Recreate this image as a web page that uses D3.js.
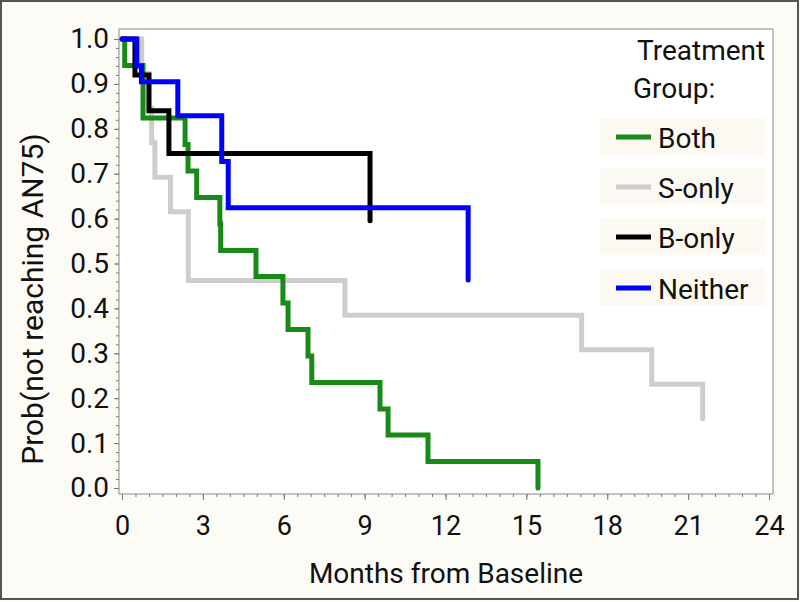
<!DOCTYPE html>
<html>
<head>
<meta charset="utf-8">
<script src="https://cdn.jsdelivr.net/npm/d3@7/dist/d3.min.js"></script>
<style>
    body { margin: 0; background: #fcfbf5; }
    svg { display: block; font-family: Roboto, 'Open Sans', sans-serif; }
</style>
</head>
<body>
<div id="js-svg-container"></div>
<script>
// Kaplan-Meier steps: event times (months) and survival after each event
let groupNames = ['Both', 'S-only', 'B-only', 'Neither'];
let groupColors = ['#178a17', '#cdcdcd', '#000000', '#0000ff'];

let bothTimes = [0.1, 0.78, 2.34, 2.45, 2.77, 3.63, 3.66, 4.97, 5.97, 6.16, 6.9, 7.04, 9.57, 9.87, 11.35, 15.43];
let bothSurv  = [0.941, 0.824, 0.765, 0.706, 0.647, 0.588, 0.529, 0.471, 0.412, 0.353, 0.294, 0.235, 0.176, 0.118, 0.059, 0.0];

let sOnlyTimes = [0.73, 1.0, 1.1, 1.22, 1.8, 2.46, 8.27, 17.05, 19.65, 21.54];
let sOnlySurv  = [0.923, 0.846, 0.769, 0.692, 0.615, 0.462, 0.385, 0.308, 0.231, 0.154];

let bOnlyTimes = [0.48, 1.0, 1.74, 9.2];
let bOnlySurv  = [0.92, 0.84, 0.745, 0.595];

let neitherTimes = [0.55, 0.72, 2.07, 3.7, 3.94, 12.84];
let neitherSurv  = [0.94, 0.905, 0.829, 0.727, 0.624, 0.463];

let xTicks = [0, 3, 6, 9, 12, 15, 18, 21, 24];
let yTicks = [0, 0.1, 0.2, 0.3, 0.4, 0.5, 0.6, 0.7, 0.8, 0.9, 1.0];

let width = 800, height = 602;
let plot = { left: 119, right: 773, top: 29, bottom: 494 };

let svg = d3.select('#js-svg-container')
    .append('svg')
    .attr('width', width)
    .attr('height', height);

svg.append('rect')
    .attr('x', 0).attr('y', 0)
    .attr('width', width).attr('height', height)
    .style('fill', '#fcfbf5');

svg.append('rect')
    .attr('x', 1).attr('y', 1)
    .attr('width', 797).attr('height', 598)
    .style('fill', 'none')
    .style('stroke', '#555')
    .style('stroke-width', 2);

svg.append('rect')
    .attr('x', plot.left).attr('y', plot.top)
    .attr('width', plot.right - plot.left)
    .attr('height', plot.bottom - plot.top)
    .style('fill', '#fff');

let x = d3.scaleLinear().domain([0, 24]).range([122, 769]);
let y = d3.scaleLinear().domain([0, 1]).range([488, 39]);

// minor ticks
svg.append('g')
    .attr('transform', 'translate(0,' + plot.bottom + ')')
    .call(d3.axisBottom(x).tickValues(d3.range(0, 24.01, 0.5)).tickSize(3).tickFormat(''))
    .call(g => g.select('.domain').remove());
svg.append('g')
    .attr('transform', 'translate(' + plot.left + ',0)')
    .call(d3.axisLeft(y).tickValues(d3.range(0, 1.001, 0.02)).tickSize(3).tickFormat(''))
    .call(g => g.select('.domain').remove());

let axisX = svg.append('g')
    .attr('transform', 'translate(0,' + plot.bottom + ')')
    .call(d3.axisBottom(x).tickValues(xTicks).tickSize(6).tickPadding(16));
axisX.select('.domain').remove();
axisX.selectAll('text').style('font-size', '27px').style('fill', '#111');

let axisY = svg.append('g')
    .attr('transform', 'translate(' + plot.left + ',0)')
    .call(d3.axisLeft(y).tickValues(yTicks).tickSize(5).tickPadding(5).tickFormat(d3.format('.1f')));
axisY.select('.domain').remove();
axisY.selectAll('text').style('font-size', '28px').style('fill', '#111');

svg.selectAll('.tick line').style('stroke', '#777');
svg.selectAll('g').attr('font-family', null);

// legend backgrounds
let legendY = [137, 187, 237, 288];
groupNames.forEach((name, i) => {
    svg.append('rect')
        .attr('x', 600).attr('y', legendY[i] - 19)
        .attr('width', 165).attr('height', 37)
        .style('fill', '#fbf9f1');
});

let series = [
    [bothTimes, bothSurv],
    [sOnlyTimes, sOnlySurv],
    [bOnlyTimes, bOnlySurv],
    [neitherTimes, neitherSurv]
];

let line = d3.line()
    .x(d => x(d[0]))
    .y(d => y(d[1]))
    .curve(d3.curveStepAfter);

let drawOrder = [1, 0, 2, 3];
drawOrder.forEach(i => {
    let pts = [[0, 1]].concat(series[i][0].map((t, k) => [t, series[i][1][k]]));
    svg.append('path')
        .datum(pts)
        .attr('d', line)
        .style('fill', 'none')
        .style('stroke', groupColors[i])
        .style('stroke-width', 5)
        .style('stroke-linejoin', 'miter')
        .style('stroke-linecap', 'round');
});

// frame
svg.append('rect')
    .attr('x', plot.left).attr('y', plot.top)
    .attr('width', plot.right - plot.left)
    .attr('height', plot.bottom - plot.top)
    .style('fill', 'none')
    .style('stroke', '#888')
    .style('stroke-width', 1);

// legend
svg.append('text').attr('x', 637).attr('y', 60).text('Treatment')
    .style('font-size', '28px').style('fill', '#111');
svg.append('text').attr('x', 633).attr('y', 98).text('Group:')
    .style('font-size', '28px').style('fill', '#111');

groupNames.forEach((name, i) => {
    svg.append('line')
        .attr('x1', 616).attr('x2', 651)
        .attr('y1', legendY[i]).attr('y2', legendY[i])
        .style('stroke', groupColors[i])
        .style('stroke-width', 5);
    svg.append('text')
        .attr('x', 658).attr('y', legendY[i] + 11)
        .text(name)
        .style('font-size', '28px').style('fill', '#111');
});

// axis titles
svg.append('text')
    .attr('x', 446).attr('y', 583)
    .attr('text-anchor', 'middle')
    .text('Months from Baseline')
    .style('font-size', '28px').style('fill', '#111');

svg.append('text')
    .attr('transform', 'translate(43,299) rotate(-90)')
    .attr('text-anchor', 'middle')
    .text('Prob(not reaching AN75)')
    .style('font-size', '30px').style('fill', '#111');
</script>
</body>
</html>
